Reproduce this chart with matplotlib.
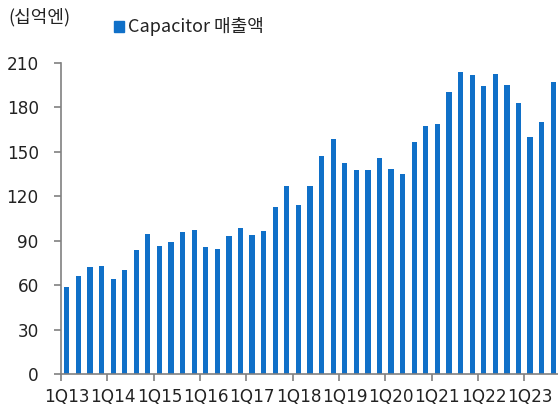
import matplotlib
matplotlib.use("Agg")
import matplotlib.pyplot as plt
from matplotlib.patches import Patch
import numpy as np

plt.rcParams['font.family'] = ['Noto Sans CJK KR', 'DejaVu Sans']

quarters = [f"{q}Q{y}" for y in range(13, 24) for q in range(1, 5)][:43]
tick_labels = ["1Q13", "1Q14", "1Q15", "1Q16", "1Q17", "1Q18", "1Q19",
               "1Q20", "1Q21", "1Q22", "1Q23"]
sales = [59, 66, 72, 73, 64, 70, 83.5, 94.7, 86.6, 89.1, 95.7, 97.2,
         85.5, 84.2, 93.2, 98.4, 94.1, 96.3, 112.8, 127.2, 114, 126.7,
         147.4, 158.7, 142.2, 137.9, 137.9, 145.8, 138.4, 134.8, 156.4,
         167.4, 169.0, 190.4, 203.9, 201.9, 194.5, 202.6, 194.9, 183,
         159.8, 170.2, 197.4]
y_ticks = [0, 30, 60, 90, 120, 150, 180, 210]

W, H = 558, 407
fig = plt.figure(figsize=(W / 100, H / 100), dpi=100)
x0, x1 = 61, 570.6
ytop, ybot = 63, 374
ax = fig.add_axes([x0 / W, 1 - ybot / H, (x1 - x0) / W, (ybot - ytop) / H])

blue = '#1070C8'
gray = '#808080'
txt = '#222222'
x = np.arange(len(sales))
ax.bar(x, sales, width=0.45, color=blue, edgecolor='none')

ax.set_xlim(-0.5, 43.5)
ax.set_ylim(0, 210)
ax.set_yticks(y_ticks)
ax.set_yticklabels([str(v) for v in y_ticks])

# labels at 1Q positions, tick marks at year boundaries
ax.set_xticks(np.arange(0, 43, 4))
ax.set_xticklabels(tick_labels)
ax.tick_params(axis='x', which='major', length=0, pad=10)
ax.set_xticks(np.arange(-0.5, 44, 4), minor=True)
ax.tick_params(axis='x', which='minor', length=5, width=1.2, color=gray, direction='out')
ax.tick_params(axis='y', length=5, width=1.2, color=gray, direction='out', pad=11)
tick_font = ['DejaVu Sans']
for lab in ax.get_xticklabels() + ax.get_yticklabels():
    lab.set_fontfamily(tick_font)
    lab.set_fontsize(12.2)
    lab.set_color(txt)

for s in ['top', 'right']:
    ax.spines[s].set_visible(False)
for s in ['left', 'bottom']:
    ax.spines[s].set_color(gray)
    ax.spines[s].set_linewidth(1.2)

fig.text(8 / W, 1 - 17 / H, "(십억엔)", fontsize=13, color=txt, va='center', ha='left')
leg = fig.legend(handles=[Patch(color=blue, label="Capacitor 매출액")],
                 loc='center left', bbox_to_anchor=(114 / W, 1 - 27 / H),
                 frameon=False, fontsize=13, handlelength=0.55, handleheight=0.55,
                 handletextpad=0.2, borderaxespad=0, borderpad=0)
for t in leg.get_texts():
    t.set_color(txt)

fig.savefig("out.png", dpi=100)
